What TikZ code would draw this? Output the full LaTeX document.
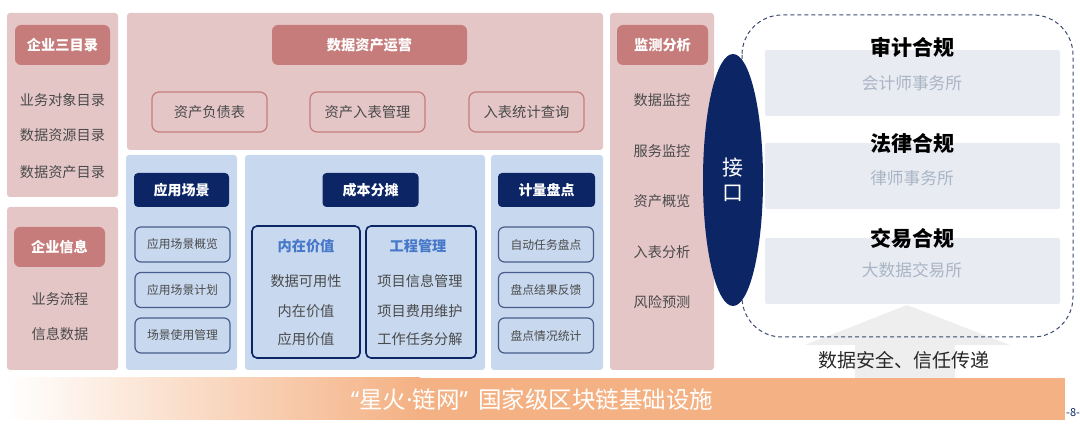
\documentclass[tikz,border=0pt]{standalone}
\usepackage{fontspec}
\setmainfont{Noto Sans CJK SC}
\newfontfamily\latinfont{Noto Sans}
\usetikzlibrary{shapes.geometric}
\usepackage{xcolor}

\definecolor{panelpink}{HTML}{E5C6C7}
\definecolor{headpink}{HTML}{C67C7B}
\definecolor{panelblue}{HTML}{C8D9EF}
\definecolor{navy}{HTML}{0B2565}
\definecolor{boxgray}{HTML}{E8ECF2}
\definecolor{subgray}{HTML}{A9B4C4}
\definecolor{itemgray}{HTML}{4A4A4A}
\definecolor{titleblue}{HTML}{4677C8}
\definecolor{barorange}{HTML}{F4B183}
\definecolor{arrowgray}{HTML}{EEEEEE}

\tikzset{
  panel/.style={fill=#1, rounded corners=3pt, inner sep=0pt},
  pinkhead/.style={fill=headpink, rounded corners=6pt, text=white, minimum height=40pt, font=\fontsize{14.2}{17}\selectfont\bfseries},
  navyhead/.style={fill=navy, rounded corners=4pt, text=white, minimum height=34pt, font=\fontsize{14}{16}\selectfont\bfseries},
  item/.style={text=itemgray, font=\fontsize{14.2}{16}\selectfont},
  pinkbox/.style={draw=headpink, line width=1.2pt, rounded corners=7pt, minimum width=115pt, minimum height=40pt, text=itemgray, font=\fontsize{14.3}{16}\selectfont},
  bluebox/.style={draw=navy!75, line width=1.2pt, rounded corners=6pt, minimum width=95pt, minimum height=35pt, text=itemgray, font=\fontsize{11.8}{13}\selectfont},
  groupbox/.style={draw=navy, line width=1.6pt, rounded corners=5pt, minimum width=#1, minimum height=132pt},
  grouptitle/.style={text=titleblue, font=\fontsize{14.2}{17}\selectfont\bfseries},
  graybox/.style={fill=boxgray, rounded corners=2pt, minimum width=295pt, minimum height=66pt},
  comptitle/.style={text=black, font=\fontsize{21}{24}\selectfont\bfseries},
  compsub/.style={text=subgray, font=\fontsize{16.7}{19}\selectfont}
}

\begin{document}
\begin{tikzpicture}[x=1pt, y=-1pt]
        \useasboundingbox (0,0) rectangle (1080,427);

        % 左列：企业三目录 / 企业信息
        \node[panel=panelpink, minimum width=111pt, minimum height=184pt] (CatPanel) at (62.5,105) {};
        \node[pinkhead, minimum width=95pt] (CatHead) at (62.5,45) {企业三目录};
        \node[item] (CatA) at (62.5,100) {业务对象目录};
        \node[item] (CatB) at (62.5,135) {数据资源目录};
        \node[item] (CatC) at (62.5,172) {数据资产目录};

        \node[panel=panelpink, minimum width=111pt, minimum height=163pt] (InfoPanel) at (62.5,288.5) {};
        \node[pinkhead, minimum width=91pt] (InfoHead) at (59.5,247) {企业信息};
        \node[item] (InfoA) at (60,299) {业务流程};
        \node[item] (InfoB) at (60,334) {信息数据};

        % 数据资产运营
        \node[panel=panelpink, minimum width=476pt, minimum height=137pt] (OpsPanel) at (365,81.5) {};
        \node[pinkhead, minimum width=195pt] (OpsHead) at (369.5,45) {数据资产运营};
        \node[pinkbox] (OpsA) at (209.5,112) {资产负债表};
        \node[pinkbox] (OpsB) at (367.5,112) {资产入表管理};
        \node[pinkbox] (OpsC) at (526.5,112) {入表统计查询};

        % 蓝色三栏
        \node[panel=panelblue, minimum width=111pt, minimum height=215pt] (ScenePanel) at (181.5,262.5) {};
        \node[panel=panelblue, minimum width=240pt, minimum height=215pt] (CostPanel) at (365,262.5) {};
        \node[panel=panelblue, minimum width=112pt, minimum height=215pt] (CountPanel) at (547,262.5) {};

        \node[navyhead, minimum width=95pt] (SceneHead) at (181.5,190) {应用场景};
        \node[navyhead, minimum width=96pt] (CostHead) at (370.5,190) {成本分摊};
        \node[navyhead, minimum width=97pt] (CountHead) at (546.5,190) {计量盘点};

        \node[bluebox] (SceneA) at (182.5,244.5) {应用场景概览};
        \node[bluebox] (SceneB) at (182.5,290) {应用场景计划};
        \node[bluebox] (SceneC) at (182.5,335.5) {场景使用管理};

        \node[groupbox=108pt] (ValueBox) at (306,292) {};
        \node[grouptitle] (ValueTitle) at (306,246) {内在价值};
        \node[item] (ValueA) at (306,281) {数据可用性};
        \node[item] (ValueB) at (306,311) {内在价值};
        \node[item] (ValueC) at (306,339) {应用价值};

        \node[groupbox=110pt] (ProjBox) at (421,292) {};
        \node[grouptitle] (ProjTitle) at (418,246) {工程管理};
        \node[item] (ProjA) at (420,281) {项目信息管理};
        \node[item] (ProjB) at (420,311) {项目费用维护};
        \node[item] (ProjC) at (420,339) {工作任务分解};

        \node[bluebox] (CountA) at (546,244.5) {自动任务盘点};
        \node[bluebox] (CountB) at (546,290) {盘点结果反馈};
        \node[bluebox] (CountC) at (546,335.5) {盘点情况统计};

        % 监测分析
        \node[panel=panelpink, minimum width=104pt, minimum height=357pt] (MonPanel) at (662,191.5) {};
        \node[pinkhead, minimum width=91pt] (MonHead) at (662.5,45) {监测分析};
        \node[item] (MonA) at (662,100) {数据监控};
        \node[item] (MonB) at (662,151) {服务监控};
        \node[item] (MonC) at (662,201) {资产概览};
        \node[item] (MonD) at (662,252) {入表分析};
        \node[item] (MonE) at (662,302) {风险预测};

        % 合规部分
        \fill[arrowgray] (805,345) -- (907,305) -- (1010,345) -- (955,345) -- (955,378) -- (855,378) -- (855,345) -- cycle;
        \draw[navy!60!gray, line width=1pt, dash pattern=on 4pt off 3pt, rounded corners=40pt] (742,15) rectangle (1073,337);

        \node[graybox] (AuditBox) at (912.5,83) {};
        \node[graybox] (LawBox) at (912.5,176) {};
        \node[graybox] (TradeBox) at (912.5,271) {};
        \node[comptitle] (Audit) at (912,47) {审计合规};
        \node[compsub] (AuditSub) at (912,83) {会计师事务所};
        \node[comptitle] (Law) at (912,143) {法律合规};
        \node[compsub] (LawSub) at (912,178) {律师事务所};
        \node[comptitle] (Trade) at (912,238) {交易合规};
        \node[compsub] (TradeSub) at (912,270) {大数据交易所};

        \node[ellipse, fill=navy, inner sep=0pt, minimum width=60pt, minimum height=252pt, text=white, align=center, font=\fontsize{21}{25}\selectfont] (Port) at (733,180) {接\\口};

        \node[font=\fontsize{19}{22}\selectfont, text=black!85] (Trust) at (904,360) {数据安全、信任传递};

        % 底部基础设施
        \shade[left color=white, right color=barorange] (7,378) rectangle (420,420);
        \fill[barorange] (419.5,378) rectangle (1065,420);
        \node[text=white, font=\fontsize{23.5}{26}\selectfont] (Base) at (532,400) {{\latinfont “}星火{\latinfont ·}链网{\latinfont ”}\hspace{10pt}国家级区块链基础设施};
        \node[text=navy, font=\fontsize{11}{12}\selectfont, anchor=west, inner sep=0pt] (PageNo) at (1066,413) {-8-};
\end{tikzpicture}
\end{document}
